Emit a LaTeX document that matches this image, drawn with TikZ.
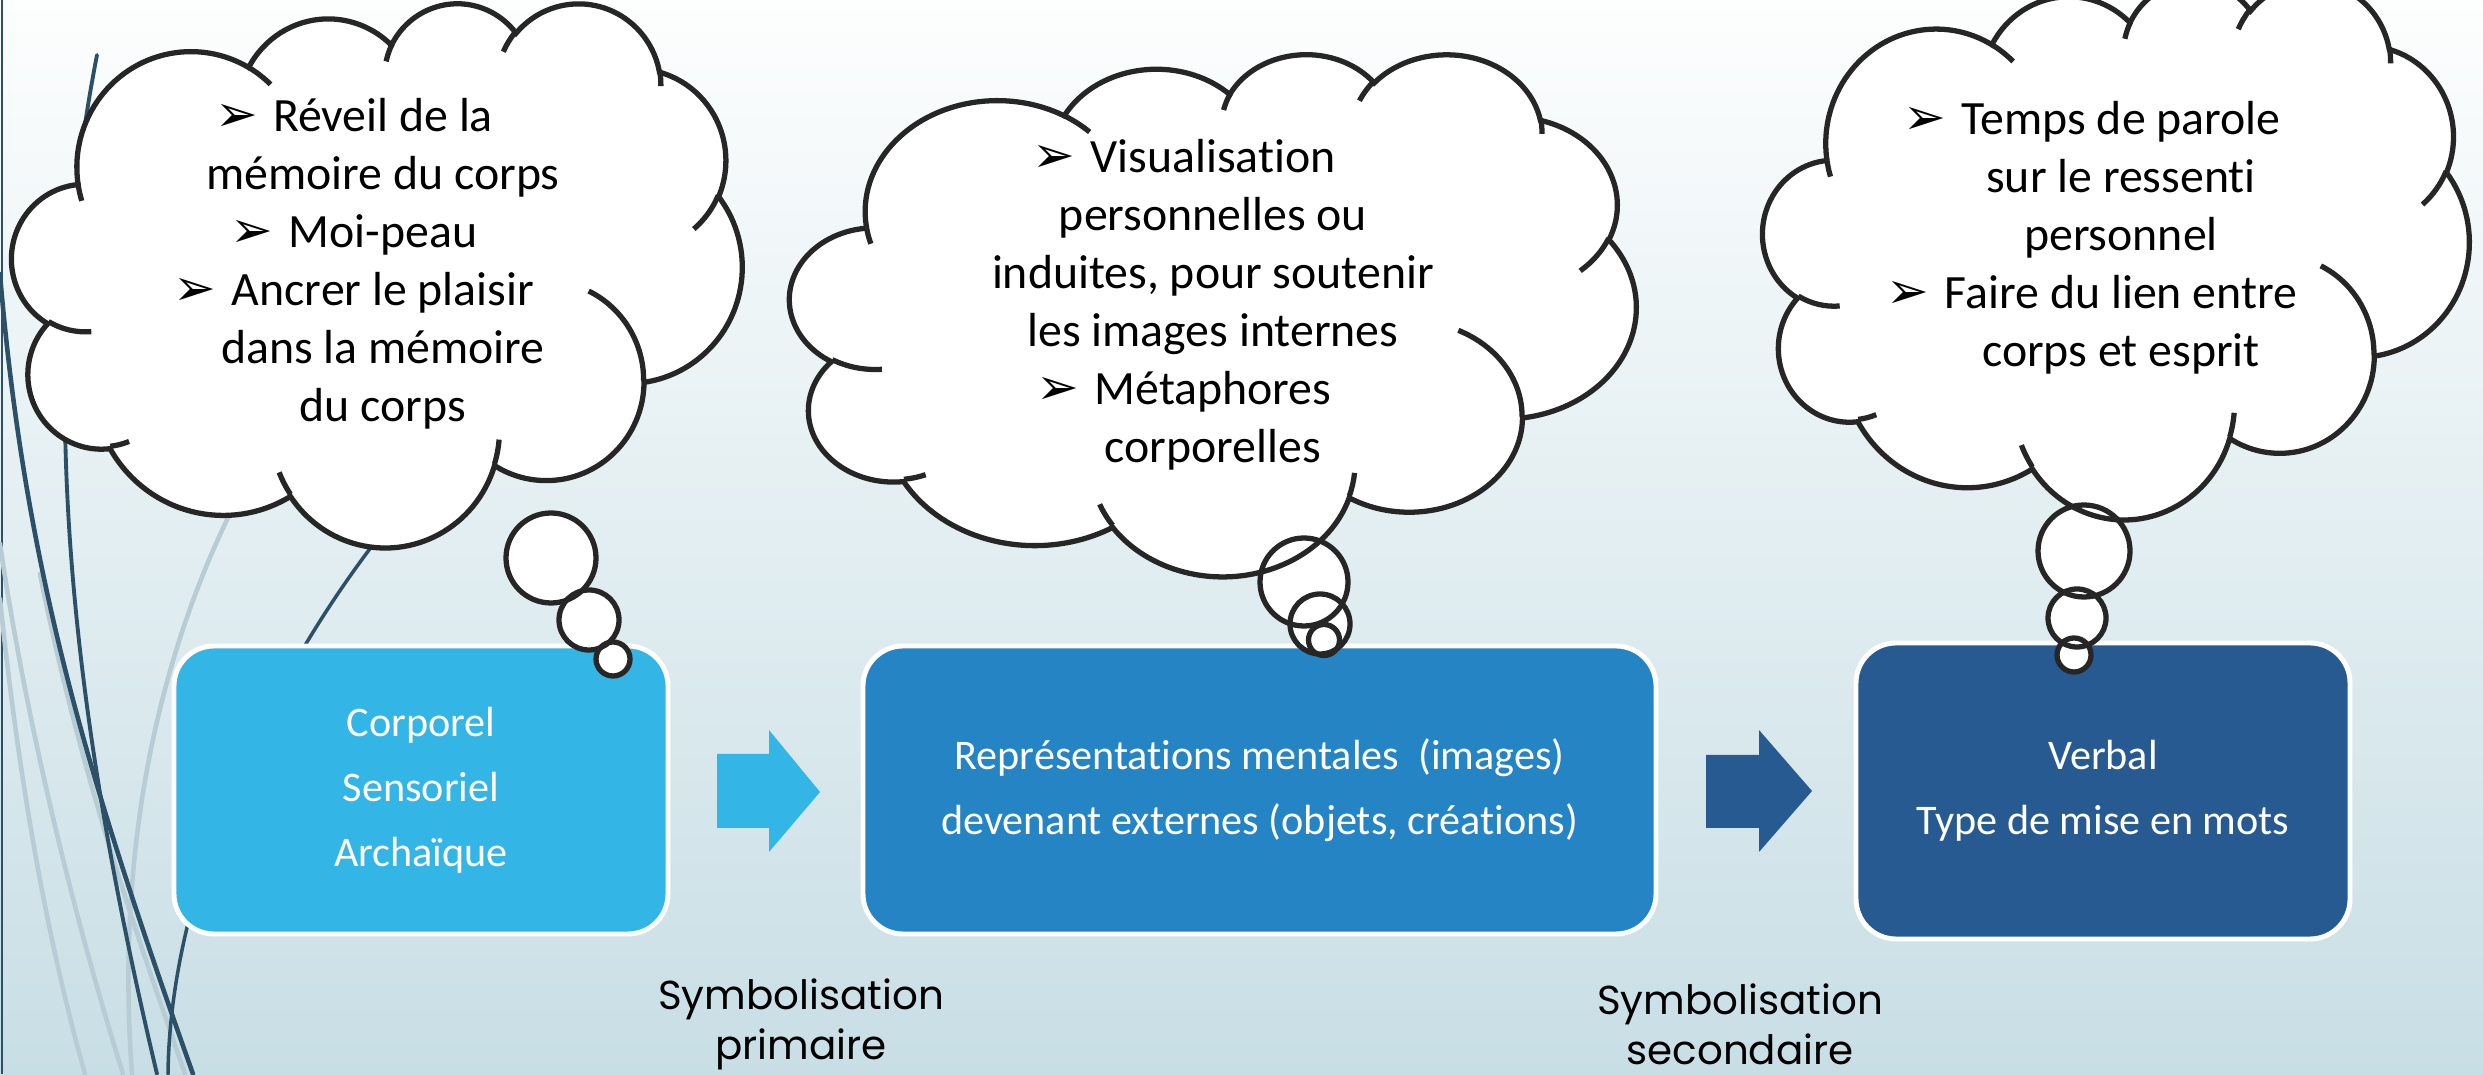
\documentclass[tikz,border=0pt]{standalone}
\usepackage{fontspec}
\setmainfont{Carlito}[Ligatures=NoCommon]
\newfontfamily\gothic{Poppins}
\newfontfamily\dingfont{DejaVu Sans}
\usepackage{xcolor}
\usepackage{tikz}

\definecolor{cyanbox}{RGB}{51,181,229}
\definecolor{midbox}{RGB}{37,132,196}
\definecolor{darkbox}{RGB}{40,90,146}
\definecolor{wispdark}{RGB}{44,80,104}
\definecolor{wisplight}{RGB}{183,204,212}
\definecolor{bgtop}{RGB}{253,254,254}
\definecolor{bgbottom}{RGB}{200,222,229}
\definecolor{cloudink}{RGB}{38,38,38}

% arrowhead bullet, hung to the left of a centred line
\newcommand\bul{\llap{\makebox[16.5pt][l]{\fontsize{14.5}{14.5}\dingfont ➢}}}

% one lobe of the cloud outline: x radius, y radius, start, sweep (visual angles)
\newcommand\lobe[4]{%
  \pgfextra{%
    \pgfmathsetmacro\lobea{atan2((#1)*sin(#3),(#2)*cos(#3))}%
    \pgfmathsetmacro\lobea{\lobea+360*round(((#3)-(\lobea))/360)}%
    \pgfmathsetmacro\lobeb{atan2((#1)*sin(#3+#4),(#2)*cos(#3+#4))}%
    \pgfmathsetmacro\lobeb{\lobeb+360*round(((#3+#4)-(\lobeb))/360)}%
    \global\let\lobea\lobea \global\let\lobeb\lobeb}%
  arc[x radius=#1, y radius=#2, start angle=\lobea, end angle=\lobeb]}

% thought bubbles: x/y/radius
\newcommand\bubblelist{5.51/5.16/0.45, 5.89/4.54/0.30, 6.13/4.15/0.17,
  13.04/4.92/0.44, 13.20/4.50/0.30, 13.24/4.34/0.155,
  20.84/5.23/0.46, 20.77/4.56/0.29, 20.74/4.19/0.17}

\begin{document}
\begin{tikzpicture}[
  stagebox/.style={rounded corners=0.4cm, draw=white, line width=1.4pt, text=white,
    align=center, inner sep=0pt, font=\fontsize{12}{18.5}\selectfont},
  cloudline/.style={draw=cloudink, line width=1.5pt},
  cloudtext/.style={align=center, inner sep=0pt, font=\fontsize{13.6}{16.5}\selectfont},
  symlabel/.style={align=center, inner sep=0pt, font=\gothic\fontsize{11.5}{14.2}\selectfont},
  wisp/.style={line width=1.3pt, line cap=round},
  pics/thoughtcloud/.style={code={
    \begin{scope}[yscale=-1]
      % outline (43.2 x 43.2 frame, y down)
      \filldraw[cloudline, fill=white] (3.9,14.37)
        \lobe{6.753}{9.19}{-190.4875}{123.7805}
        \lobe{5.333}{7.267}{-144.1024}{89.9452}
        \lobe{4.365}{5.945}{-145.8079}{99.723}
        \lobe{4.857}{6.595}{-130.9861}{117.2417}
        \lobe{5.333}{7.273}{-78.7089}{109.0269}
        \lobe{6.775}{9.22}{-46.2673}{130.269}
        \lobe{5.785}{7.867}{0.625}{114.0333}
        \lobe{6.752}{9.215}{22.4516}{115.1726}
        \lobe{7.72}{10.543}{66.2426}{75.711}
        \lobe{4.36}{5.918}{-274.9421}{146.7356}
        \lobe{4.345}{5.945}{-246.8285}{152.5189}
        -- cycle;
      % inner creases
      \draw[cloudline]
        (4.693,26.177) \lobe{4.345}{5.945}{86.742}{26.4295}
        (6.928,34.899) \lobe{4.36}{5.918}{73.6105}{11.4475}
        (16.478,39.09) \lobe{6.752}{9.215}{137.6242}{14.0811}
        (28.827,34.751) \lobe{6.752}{9.215}{6.4533}{15.9984}
        (34.129,22.954) \lobe{5.785}{7.867}{-70.2924}{70.9174}
        (41.798,15.354) \lobe{5.333}{7.273}{30.318}{27.7515}
        (38.324,5.426) \lobe{4.857}{6.595}{-13.7443}{14.8589}
        (29.078,3.952) \lobe{4.857}{6.595}{-149.1815}{18.1954}
        (22.141,4.72) \lobe{4.365}{5.945}{-163.4943}{17.6864}
        (14,5.192) \lobe{6.753}{9.19}{-66.707}{12.3194}
        (4.127,15.789) \lobe{6.753}{9.19}{157.6544}{11.8582};
    \end{scope}
  }}
]
  \useasboundingbox (0,0) rectangle (24.83,10.74);

  % Background
  \shade[top color=bgtop, bottom color=bgbottom] (0,0) rectangle (24.83,10.74);
  \draw[wispdark, line width=0.8pt] (0.02,0) -- (0.02,10.74);

  % Wisps on the left
  \draw[wisp, wisplight] (0,5.3) .. controls (0.25,3.6) and (0.7,1.7) .. (1.23,0);
  \draw[wisp, wisplight] (0,4.75) .. controls (0.15,3.3) and (0.4,1.6) .. (0.85,0);
  \draw[wisp, wisplight] (2.45,5.9) .. controls (1.6,4.3) and (1.15,2.3) .. (1.32,0);
  \draw[wisp, wisplight] (0.4,5.0) .. controls (0.8,3.0) and (1.4,1.3) .. (1.85,0);
  \draw[wisp, wispdark] (0,8.0) .. controls (0.25,5.0) and (0.9,2.9) .. (1.93,0);
  \draw[wisp, wispdark, line width=1.1pt] (0.97,10.19) .. controls (0.45,7.5) and (0.5,4.5) .. (1.57,0);
  \draw[wisp, wispdark, line width=1pt] (1.68,0) .. controls (1.7,1.8) and (2.6,3.8) .. (3.72,5.28);

  % Stages
  \node[stagebox, fill=cyanbox, minimum width=4.94cm, minimum height=2.88cm] (corporel) at (4.21,2.84)
    {Corporel\\Sensoriel\\Archaïque};
  \node[stagebox, fill=midbox, minimum width=7.93cm, minimum height=2.88cm] (mental) at (12.595,2.84)
    {Représentations mentales\ \ (images)\\devenant externes (objets, créations)};
  \node[stagebox, fill=darkbox, minimum width=4.94cm, minimum height=2.96cm] (verbal) at (21.03,2.83)
    {Verbal\\Type de mise en mots};

  % Block arrows
  \fill[cyanbox] (7.17,3.20) -- (7.69,3.20) -- (7.69,3.44) -- (8.20,2.82)
    -- (7.69,2.22) -- (7.69,2.46) -- (7.17,2.46) -- cycle;
  \fill[darkbox] (17.06,3.19) -- (17.59,3.19) -- (17.59,3.44) -- (18.12,2.83)
    -- (17.59,2.22) -- (17.59,2.46) -- (17.06,2.46) -- cycle;

  \node[symlabel] (symprim) at (8.01,0.50) {Symbolisation\\primaire};
  \node[symlabel] (symsec) at (17.40,0.50) {Symbolisation\\secondaire};

  % Thought clouds
  \foreach \bx/\by/\br in \bubblelist
    \fill[white] (\bx,\by) circle (\br);
  \pic[xscale=0.16898, yscale=0.12593] at (0.12,10.72) {thoughtcloud};
  \pic[xscale=0.19583, yscale=0.12083] at (7.90,10.21) {thoughtcloud};
  \pic[xscale=0.16343, yscale=0.12454] at (17.63,10.94) {thoughtcloud};
  \foreach \bx/\by/\br in \bubblelist
    \draw[cloudline] (\bx,\by) circle (\br);

  \node[cloudtext] (idea1) at (3.83,8.10)
    {\bul Réveil de la\\mémoire du corps\\\bul Moi-peau\\\bul Ancrer le plaisir\\dans la mémoire\\du corps};
  \node[cloudtext] (idea2) at (12.13,7.69)
    {\bul Visualisation\\personnelles ou\\induites, pour soutenir\\les images internes\\\bul Métaphores\\corporelles};
  \node[cloudtext] (idea3) at (21.21,8.36)
    {\bul Temps de parole\\sur le ressenti\\personnel\\\bul Faire du lien entre\\corps et esprit};
\end{tikzpicture}
\end{document}
